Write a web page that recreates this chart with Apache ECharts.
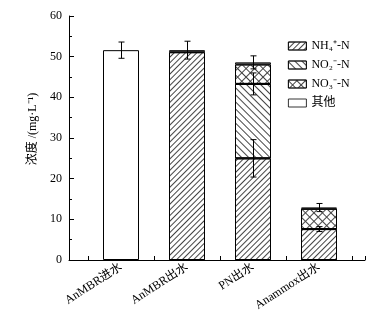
<!DOCTYPE html>
<html lang="zh">
<head>
<meta charset="UTF-8">
<title>浓度</title>
<script src="https://cdn.jsdelivr.net/npm/echarts@6/dist/echarts.min.js"></script>
<style>html,body{margin:0;padding:0;background:#fff;}</style>
</head>
<body>
<div id="myChart" style="width:387px;height:321px;"></div>
<script>
var categories = ['AnMBR进水', 'AnMBR出水', 'PN出水', 'Anammox出水'];
var seriesNames = ['NH₄⁺-N', 'NO₂⁻-N', 'NO₃⁻-N', '其他'];
// stacked parts, bottom to top
var nh4 = [null, 51.1, 25.0, 7.6];
var no2 = [null, null, 18.3, null];
var no3 = [null, null, 4.8, 5.0];
var other = [51.6, 0.5, 0.5, 0.3];
// error bars: bar index, level, half length
var errIndex = [0, 1, 2, 2, 2, 3, 3];
var errLevel = [51.6, 51.6, 25.0, 43.3, 48.6, 7.6, 12.9];
var errSize = [2.0, 2.2, 4.6, 2.7, 1.6, 0.6, 1.0];
var yTicks = [0, 60, 10];
var xTickPos = [0.5, 1, 1.5, 2, 2.5, 3, 3.5, 4, 4.5, 4.7];

var serif = "'Liberation Serif', 'Times New Roman', 'Noto Sans CJK SC', serif";

function hatch(rot, gap) {
    return {symbol: 'rect', symbolSize: 1, color: '#444',
        dashArrayX: [1, 0], dashArrayY: [1, gap], rotation: rot};
}
var crossHatch = {symbol: 'rect', symbolSize: 1, color: '#444',
    dashArrayX: [[6, 0], [1, 5]], dashArrayY: [1, 0, 5, 0], rotation: Math.PI / 4};
var decals = [hatch(-Math.PI / 4, 2.8), hatch(Math.PI / 4, 3.6), crossHatch, null];
var parts = [nh4, no2, no3, other];

var series = parts.map(function (d, i) {
    var st = {color: '#fff', borderColor: '#000', borderWidth: 1};
    if (decals[i]) st.decal = decals[i];
    return {
        name: seriesNames[i], type: 'bar', stack: 'n',
        xAxisIndex: 1, yAxisIndex: 1, barWidth: 36,
        itemStyle: st, data: d, animation: false
    };
});

var errData = errIndex.map(function (k, i) { return [k, errLevel[i], errSize[i]]; });
series.push({
    type: 'custom', xAxisIndex: 1, yAxisIndex: 1, z: 5, animation: false,
    data: errData,
    renderItem: function (params, api) {
        var x = api.value(0), m = api.value(1), e = api.value(2);
        var t = api.coord([x, m + e]), b = api.coord([x, m - e]);
        var cx = Math.round(t[0]) + 0.5, w = 3;
        var s = {stroke: '#000', lineWidth: 1};
        return {type: 'group', children: [
            {type: 'line', shape: {x1: cx, y1: t[1], x2: cx, y2: b[1]}, style: s},
            {type: 'line', shape: {x1: cx - w, y1: t[1], x2: cx + w, y2: t[1]}, style: s},
            {type: 'line', shape: {x1: cx - w, y1: b[1], x2: cx + w, y2: b[1]}, style: s}
        ]};
    }
});

var myChart = echarts.init(document.getElementById('myChart'));
var option = {
    animation: false,
    textStyle: {fontFamily: serif, color: '#000'},
    legend: {
        orient: 'vertical', left: 283, top: 35, itemWidth: 18, itemHeight: 8, itemGap: 7,
        icon: 'rect', data: seriesNames,
        itemStyle: {borderWidth: 0.8},
        textStyle: {fontFamily: serif, fontSize: 12, color: '#000'}
    },
    grid: [
        {left: 69, right: 22, top: 16, bottom: 61},
        {left: 88, right: 35, top: 16, bottom: 61}
    ],
    xAxis: [{
        type: 'value', gridIndex: 0, min: 0.2, max: 4.7,
        axisLine: {lineStyle: {color: '#000', width: 1}},
        axisTick: {inside: true, length: 4, customValues: xTickPos, lineStyle: {color: '#000'}},
        axisLabel: {show: false}, splitLine: {show: false}
    }, {
        type: 'category', gridIndex: 1, data: categories,
        axisLine: {show: false}, axisTick: {show: false},
        axisLabel: {rotate: 33, margin: 6, fontSize: 12, fontFamily: serif, color: '#000'}
    }],
    yAxis: [{
        type: 'value', gridIndex: 0, min: yTicks[0], max: yTicks[1], interval: yTicks[2],
        name: '浓度 /(mg·L⁻¹)', nameLocation: 'middle', nameGap: 25,
        nameTextStyle: {fontFamily: serif, fontSize: 12, color: '#000', padding: [0, 0, 0, 18]},
        axisLine: {show: true, lineStyle: {color: '#000', width: 1}},
        axisTick: {inside: true, length: 5, lineStyle: {color: '#000'}},
        minorTick: {show: true, splitNumber: 2, length: 3, lineStyle: {color: '#000'}},
        axisLabel: {margin: 7, fontSize: 12, fontFamily: serif, color: '#000'},
        splitLine: {show: false}
    }, {
        type: 'value', gridIndex: 1, min: yTicks[0], max: yTicks[1], show: false
    }],
    series: series
};
myChart.setOption(option);
</script>
</body>
</html>
